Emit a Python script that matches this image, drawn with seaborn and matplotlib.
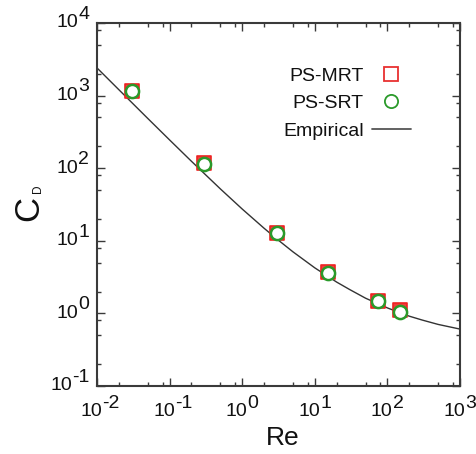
import matplotlib
matplotlib.use("Agg")
import numpy as np
import pandas as pd
import seaborn as sns
import matplotlib.pyplot as plt
import matplotlib.transforms as mtransforms
from matplotlib.ticker import LogLocator, NullFormatter
from matplotlib.lines import Line2D

# Simulation results
re_sim = [0.03, 0.3, 3.0, 15.0, 75.0, 150.0]
cd_mrt = [1150, 117, 12.8, 3.68, 1.50, 1.10]
cd_srt = [1150, 116, 12.7, 3.65, 1.48, 1.05]

# Empirical drag curve
re_emp = [0.01, 0.02, 0.05, 0.1, 0.2, 0.5, 1, 2, 3, 5, 10, 20, 30, 50, 100, 200, 300, 500, 1000]
cd_emp = [2406, 1206, 485, 245, 124.5, 51.9, 27.4, 14.9, 10.6, 7.05, 4.24, 2.70, 2.14,
          1.62, 1.19, 0.916, 0.811, 0.705, 0.608]

x_exps = [-2, -1, 0, 1, 2, 3]
y_exps = [-1, 0, 1, 2, 3, 4]

sns.set_style("ticks")
plt.rcParams['font.family'] = ['Liberation Sans', 'DejaVu Sans']
plt.rcParams['text.color'] = '#111111'
plt.rcParams['axes.labelcolor'] = '#111111'

df_sim = pd.DataFrame({'Re': re_sim, 'MRT': cd_mrt, 'SRT': cd_srt})
df_emp = pd.DataFrame({'Re': re_emp, 'CD': cd_emp})

fig = plt.figure(figsize=(4.77, 4.54), dpi=100)
ax = fig.add_axes([97 / 477, 68 / 454, 363 / 477, 363 / 454])

sns.lineplot(data=df_emp, x='Re', y='CD', ax=ax, color='#333333', lw=1.0, zorder=2)
sns.scatterplot(data=df_sim, x='Re', y='MRT', ax=ax, marker='s', s=105,
                color='#f03c3c', edgecolor='#ee2222', linewidth=1.2, zorder=3)
sns.scatterplot(data=df_sim, x='Re', y='SRT', ax=ax, marker='o', s=90,
                facecolor='white', edgecolor='#2a9a2a', linewidth=1.8, zorder=4)

ax.set_xscale('log')
ax.set_yscale('log')
ax.set_xlim(1e-2, 1e3)
ax.set_ylim(1e-1, 1e4)

spine_col = '#3a3a3a'
for sp in ax.spines.values():
    sp.set_visible(True)
    sp.set_linewidth(1.5)
    sp.set_color(spine_col)

for axis in (ax.xaxis, ax.yaxis):
    axis.set_major_locator(LogLocator(base=10, numticks=20))
    axis.set_minor_locator(LogLocator(base=10, subs=[2, 5, 8], numticks=20))
    axis.set_major_formatter(NullFormatter())
    axis.set_minor_formatter(NullFormatter())
ax.tick_params(which='both', direction='in', top=True, right=True, color=spine_col, width=1.0)
ax.tick_params(which='major', length=6)
ax.tick_params(which='minor', length=3)

# power-of-ten tick labels with full-size exponents
fs = 14


def exp_width(s):
    return sum(0.333 if c == '-' else 0.556 for c in s) * fs


tx = mtransforms.blended_transform_factory(ax.transData, ax.transAxes)
for k in x_exps:
    e = str(k)
    ax.annotate('10', xy=(10.0 ** k, 0), xycoords=tx, xytext=(3.8, -21.6),
                textcoords='offset points', ha='right', va='baseline', fontsize=fs,
                annotation_clip=False)
    ax.annotate(e, xy=(10.0 ** k, 0), xycoords=tx, xytext=(3.8, -15.6),
                textcoords='offset points', ha='left', va='baseline', fontsize=fs,
                annotation_clip=False)

ty = mtransforms.blended_transform_factory(ax.transAxes, ax.transData)
for k in y_exps:
    e = str(k)
    w = exp_width(e)
    ax.annotate(e, xy=(0, 10.0 ** k), xycoords=ty, xytext=(-5.5, 3.0),
                textcoords='offset points', ha='right', va='baseline', fontsize=fs,
                annotation_clip=False)
    ax.annotate('10', xy=(0, 10.0 ** k), xycoords=ty, xytext=(-5.5 - w, -3.1),
                textcoords='offset points', ha='right', va='baseline', fontsize=fs,
                annotation_clip=False)

# axis labels
ax.set_xlabel('Re', fontsize=19)
ax.xaxis.label.set_va('baseline')
ax.xaxis.set_label_coords(0.511, -59 / 363)
ax.set_ylabel('C', fontsize=25)
ax.yaxis.label.set_va('baseline')
ax.yaxis.set_label_coords(-58.7 / 363, 0.49)
ax.text(-56 / 363, (386 - 188.5) / 363, 'D', transform=ax.transAxes, fontsize=8.5,
        rotation=90, rotation_mode='anchor', ha='center', va='baseline')

handles = [
    Line2D([], [], ls='none', marker='s', ms=10, mfc='white', mec='#e83030', mew=1.3),
    Line2D([], [], ls='none', marker='o', ms=9.5, mfc='white', mec='#2a9a2a', mew=1.3),
    Line2D([], [], color='#555555', lw=1.3),
]
ax.legend(handles, ['PS-MRT', 'PS-SRT', 'Empirical'], loc='upper right',
          bbox_to_anchor=(0.864, 0.879), frameon=False, markerfirst=False,
          fontsize=14, handlelength=2.0, handletextpad=0.4, labelspacing=0.52,
          borderpad=0, borderaxespad=0)

fig.savefig('out.png', dpi=100)
